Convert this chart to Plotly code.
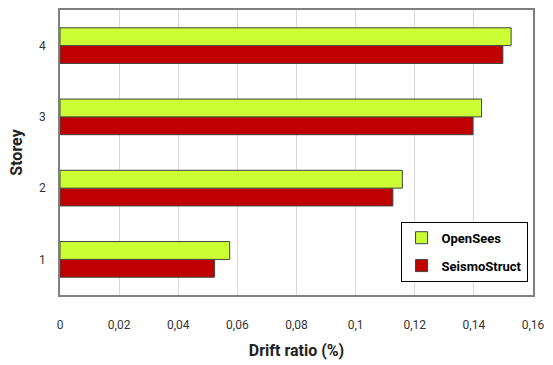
import plotly.graph_objects as go

storeys = ["1", "2", "3", "4"]
opensees = [0.0574, 0.1158, 0.1426, 0.1526]
seismostruct = [0.0523, 0.1126, 0.1397, 0.1498]
x_ticks = [0, 0.02, 0.04, 0.06, 0.08, 0.1, 0.12, 0.14, 0.16]
x_tick_text = ["0", "0,02", "0,04", "0,06", "0,08", "0,1", "0,12", "0,14", "0,16"]

font_family = "Roboto, Open Sans, sans-serif"

fig = go.Figure()
fig.add_trace(go.Bar(
    y=storeys, x=seismostruct, orientation="h", name="<b>SeismoStruct</b>",
    legendgroup="b", legendrank=2,
    marker=dict(color="#C00000", line=dict(color="#404040", width=1)),
))
fig.add_trace(go.Bar(
    y=storeys, x=opensees, orientation="h", name="<b>OpenSees</b>",
    legendgroup="a", legendrank=1,
    marker=dict(color="#CCFF33", line=dict(color="#404040", width=1)),
))

fig.update_layout(
    width=553, height=365,
    margin=dict(l=60, r=17, t=8, b=69),
    paper_bgcolor="white", plot_bgcolor="white",
    barmode="group", bargap=0.5, bargroupgap=0,
    font=dict(family=font_family, size=12, color="#333333"),
    legend=dict(
        x=0.72, y=0.257, xanchor="left", yanchor="top",
        bordercolor="black", borderwidth=1, bgcolor="white",
        traceorder="grouped", tracegroupgap=8,
        font=dict(family=font_family, size=13, color="black"),
        itemwidth=30,
    ),
    xaxis=dict(
        range=[0, 0.16], tickvals=x_ticks, ticktext=x_tick_text,
        showgrid=True, gridcolor="#D9D9D9", gridwidth=1,
        showline=True, mirror=True, linecolor="#808080", linewidth=1.5,
        zeroline=False, ticks="", ticklabelstandoff=18,
        tickfont=dict(size=12, color="#333333"),
        title=dict(text="<b>Drift ratio (%)</b>", standoff=14,
                   font=dict(size=16, color="#222222")),
    ),
    yaxis=dict(
        showgrid=False,
        showline=True, mirror=True, linecolor="#808080", linewidth=1.5,
        ticks="", ticklabelstandoff=10,
        tickfont=dict(size=12, color="#333333"),
        title=dict(text="<b>Storey</b>", standoff=12,
                   font=dict(size=16, color="#222222")),
    ),
)

fig.write_html("out.html")
